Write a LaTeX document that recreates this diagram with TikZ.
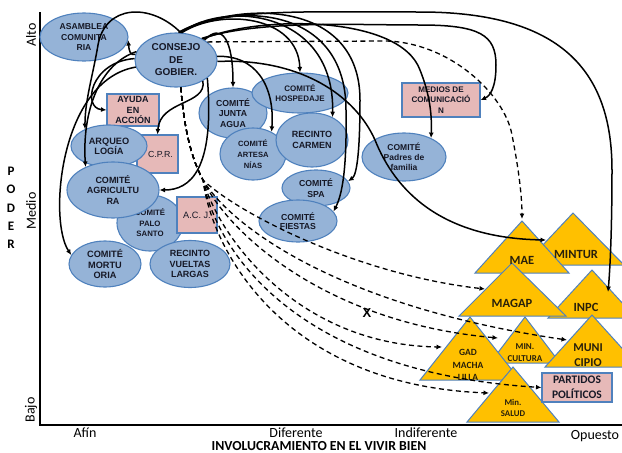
\documentclass[tikz,border=0pt]{standalone}
\usepackage{fontspec}
\setmainfont{Liberation Sans}
\newfontfamily\calfont{Carlito}
\usetikzlibrary{shapes.geometric,arrows.meta}

\definecolor{ellfill}{RGB}{149,179,215}
\definecolor{nodeedge}{RGB}{79,129,189}
\definecolor{boxfill}{RGB}{230,185,184}
\definecolor{trifill}{RGB}{255,192,0}
\definecolor{inktext}{RGB}{22,24,38}
\definecolor{tritext}{RGB}{40,32,10}

\tikzset{
  actor/.style={ellipse, draw=nodeedge, fill=ellfill, line width=1.1pt, inner sep=0pt, align=center, text=inktext},
  agency/.style={rectangle, draw=nodeedge, fill=boxfill, line width=1.1pt, inner sep=0pt, align=center, text=inktext},
  sz/.style 2 args={font=\bfseries\fontsize{#1}{#2}\selectfont},
  csz/.style 2 args={font=\calfont\bfseries\fontsize{#1}{#2}\selectfont},
  tri/.style={draw=nodeedge, fill=trifill, line width=1pt},
  trilabel/.style={inner sep=0pt, align=center, text=tritext},
  link/.style={line width=1.5pt, -{Latex[length=5.5pt,width=5pt]}},
  weak/.style={line width=1.3pt, dash pattern=on 5pt off 3.5pt, -{Latex[length=5.5pt,width=5pt]}},
  axislabel/.style={inner sep=0pt, font=\calfont\fontsize{14}{14}\selectfont},
}

\begin{document}
\begin{tikzpicture}[x=1pt,y=-1pt]
\useasboundingbox (0,0) rectangle (622,453);

% axes
\draw[line width=1.4pt] (40,12) -- (40,425) -- (622,425);

\node[axislabel, rotate=90] (alto) at (31,35) {Alto};
\node[axislabel, rotate=90] (medio) at (31,211) {Medio};
\node[axislabel, rotate=90] (bajo) at (31,410) {Bajo};
\node[inner sep=0pt, align=center, font=\calfont\bfseries\fontsize{13}{18.3}\selectfont] (poder) at (11,208) {P\\O\\D\\E\\R};
\node[axislabel] (afin) at (85,432.5) {Afín};
\node[axislabel] (diferente) at (296,432.5) {Diferente};
\node[axislabel] (indiferente) at (426,432.5) {Indiferente};
\node[axislabel] (opuesto) at (595,436) {Opuesto};
\node[inner sep=0pt, font=\calfont\bfseries\fontsize{13.8}{14}\selectfont] (eje) at (319,446.5) {INVOLUCRAMIENTO EN EL VIVIR BIEN};

% local actors
\node[actor, sz={8.6}{10.5}, minimum width=88pt, minimum height=48pt] (asamblea) at (84,37) {ASAMBLEA\\COMUNITA\\RIA};
\node[actor, sz={10}{12.5}, minimum width=82pt, minimum height=54pt] (consejo) at (176,60) {CONSEJO\\DE\\GOBIER.};
\node[actor, sz={8.7}{10.5}, minimum width=68pt, minimum height=50pt] (junta) at (233,113) {COMITÉ\\JUNTA\\AGUA};
\node[actor, sz={8}{10.5}, minimum width=96pt, minimum height=40pt] (hosp) at (300,93) {COMITÉ\\HOSPEDAJE};
\node[actor, sz={7.6}{10.8}, minimum width=66pt, minimum height=52pt] (artes) at (253,154) {COMITÉ\\ARTESA\\NÍAS};
\node[actor, sz={9}{10.5}, minimum width=72pt, minimum height=54pt] (carmen) at (312,140) {RECINTO\\CARMEN};
\node[actor, sz={8.7}{11}, minimum width=68pt, minimum height=36pt] (spa) at (316,188) {COMITÉ\\SPA};
\node[actor, sz={8.7}{9.5}, minimum width=78pt, minimum height=42pt] (fiestas) at (298,221) {COMITÉ\\FIESTAS};
\node[actor, sz={8.5}{10}, minimum width=84pt, minimum height=48pt] (padres) at (404,157) {COMITÉ\\Padres de\\familia};
\node[agency, sz={8.1}{10.5}, minimum width=78pt, minimum height=34pt] (medios) at (441,100) {MEDIOS DE\\COMUNICACIÓ\\N};
\node[agency, sz={9}{10.5}, minimum width=52pt, minimum height=32pt] (ayuda) at (133,110) {AYUDA\\EN\\ACCIÓN};
\node[agency, font=\fontsize{8.8}{10}\selectfont, minimum width=41pt, minimum height=38pt] (cpr) at (157.5,154) {\hspace*{6pt}C.P.R.};
\node[actor, sz={9.2}{10}, minimum width=76pt, minimum height=42pt] (arqueo) at (109,146) {ARQUEO\\LOGÍA};
\node[actor, sz={7.8}{10.5}, minimum width=66pt, minimum height=56pt] (palo) at (150,223) {COMITÉ\\PALO\\SANTO};
\node[actor, sz={9}{10.5}, minimum width=92pt, minimum height=56pt] (agri) at (113,190) {COMITÉ\\AGRICULTU\\RA};
\node[agency, font=\fontsize{9.2}{10}\selectfont, minimum width=40pt, minimum height=36pt] (acj) at (197,215) {A.C. J.};
\node[actor, sz={9}{10.8}, minimum width=80pt, minimum height=47pt] (vueltas) at (190,264) {RECINTO\\VUELTAS\\LARGAS};
\node[actor, sz={9.2}{10.5}, minimum width=72pt, minimum height=46pt] (mort) at (105,264) {COMITÉ\\MORTU\\ORIA};

% institutions
\filldraw[tri] (573,213) -- (524,265) -- (624,265) -- cycle;
\filldraw[tri] (522,221) -- (475,273) -- (569,273) -- cycle;
\filldraw[tri] (592,270) -- (548,318) -- (636,318) -- cycle;
\filldraw[tri] (512,263) -- (459,316) -- (566,316) -- cycle;
\filldraw[tri] (525,317) -- (490,363) -- (560,363) -- cycle;
\filldraw[tri] (592,315) -- (545,367) -- (639,367) -- cycle;
\filldraw[tri] (470,317) -- (420,380) -- (520,380) -- cycle;
\filldraw[tri] (513,367) -- (467,422) -- (559,422) -- cycle;

\node[trilabel, csz={12.5}{12}] (mintur) at (576,254) {MINTUR};
\node[trilabel, csz={12.5}{12}] (mae) at (522,260) {MAE};
\node[trilabel, csz={12.5}{12}] (inpc) at (586,307) {INPC};
\node[trilabel, csz={12.5}{12}] (magap) at (512,303) {MAGAP};
\node[trilabel, csz={9}{12}] (cultura) at (525,353) {MIN.\\CULTURA};
\node[trilabel, csz={12}{15}] (municipio) at (588,355) {MUNI\\CIPIO};
\node[trilabel, csz={9.5}{12.5}] (gad) at (468,365) {GAD\\MACHA\\LILLA};
\node[trilabel, csz={8.8}{11.5}] (salud) at (513,408) {Min.\\SALUD};
\node[agency, csz={11.5}{14.5}, minimum width=70pt, minimum height=29pt] (partidos) at (577,387.5) {PARTIDOS\\POLÍTICOS};

\coordinate (maeTop) at (522,219);
\coordinate (minturL) at (546,240);
\coordinate (inpcR) at (608,292);
\coordinate (magapL) at (485,289);
\coordinate (culturaL) at (498,338);
\coordinate (muniL) at (567,340);
\coordinate (gadL) at (442,347);
\coordinate (saludL) at (489,393);
\coordinate (bend) at (385,41);
\coordinate (fan) at (203,180);

% relations of the council: left side
\draw[link] (consejo.172) .. controls (130,56) and (129,50) .. (asamblea.-4);
\draw[link] (consejo.80) .. controls (150,2) and (105,5) .. (98,45) .. controls (93,75) and (85,100) .. (arqueo.145);
\draw[link] (consejo.168) .. controls (100,64) and (82,110) .. (agri.140);
\draw[link] (consejo.178) .. controls (90,62) and (82,108) .. (ayuda.west);
\draw[link] (consejo.190) .. controls (60,80) and (48,220) .. (mort.165);
\draw[link] (consejo.-38) .. controls (207,105) and (160,100) .. (cpr.north);
\draw[link] (consejo.-30) .. controls (215,170) and (190,190) .. (agri.0);

% relations of the council: upper arcs
\draw[link] (consejo.35) .. controls (222,22) and (233,40) .. (junta.north);
\draw[link] (consejo.78) .. controls (220,8) and (298,15) .. (hosp.north);
\draw[link] (consejo.80) .. controls (225,0) and (335,10) .. (carmen.48);
\draw[link] (consejo.82) .. controls (240,0) and (360,0) .. (360,100) .. controls (360,150) and (357,175) .. (spa.12);
\draw[link] (consejo.84) .. controls (235,2) and (346,5) .. (346,110) .. controls (347,170) and (342,195) .. (fiestas.15);
\draw[link] (consejo.5) .. controls (255,55) and (275,85) .. (artes.50);
\draw[link] (consejo.38) .. controls (260,15) and (400,15) .. (420,70) .. controls (430,95) and (432,115) .. (padres.35);
\draw[link] (consejo.40) .. controls (260,20) and (350,25) .. (420,25) .. controls (480,25) and (496,35) .. (496,65) .. controls (496,88) and (490,96) .. (medios.east);
\draw[link] (consejo.85) .. controls (220,8) and (300,12) .. (420,12) .. controls (560,12) and (612,70) .. (612,170) .. controls (612,230) and (610,270) .. (inpcR);
\draw[link] (consejo.-2) .. controls (300,58) and (355,95) .. (375,140) .. controls (395,190) and (440,238) .. (minturL);

% weak relations
\draw[weak] (consejo.30) -- (bend) .. controls (450,42) and (505,95) .. (512,135) .. controls (518,165) and (522,195) .. (maeTop);
\draw[weak] (consejo.-80) .. controls (185,140) and (195,165) .. (fan) .. controls (240,215) and (360,275) .. (magapL);
\draw[weak] (consejo.-80) .. controls (185,140) and (195,165) .. (fan) .. controls (228,222) and (330,305) .. (muniL);
\draw[weak] (consejo.-80) .. controls (185,140) and (195,165) .. (fan) .. controls (225,228) and (320,322) .. (culturaL);
\draw[weak] (consejo.-80) .. controls (185,140) and (195,165) .. (fan) .. controls (220,240) and (300,345) .. (gadL);
\draw[weak] (consejo.-80) .. controls (185,140) and (195,165) .. (fan) .. controls (215,246) and (290,372) .. (partidos.west);
\draw[weak] (consejo.-80) .. controls (185,140) and (195,165) .. (fan) .. controls (212,252) and (285,385) .. (saludL);

\node[inner sep=0pt, font=\bfseries\fontsize{13}{13}\selectfont] (ruptura) at (367,313) {X};
\end{tikzpicture}
\end{document}
